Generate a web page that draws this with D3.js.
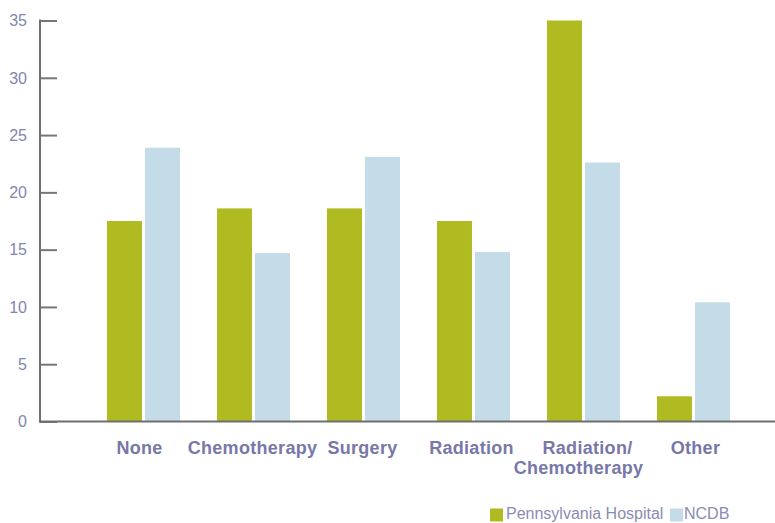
<!DOCTYPE html>
<html>
<head>
<meta charset="utf-8">
<script src="https://cdn.jsdelivr.net/npm/d3@7"></script>
<style>
  html, body { margin: 0; padding: 0; background: #ffffff; }
  svg { display: block; }
</style>
</head>
<body>
<svg id="chart" width="775" height="523"></svg>
<script>
const categories = ["None", "Chemotherapy", "Surgery", "Radiation", "Radiation/\nChemotherapy", "Other"];
const seriesNames = ["Pennsylvania Hospital", "NCDB"];
const pennValues = [17.5, 18.6, 18.6, 17.5, 35.0, 2.2];
const ncdbValues = [23.9, 14.7, 23.1, 14.8, 22.6, 10.4];
const yTicks = [0, 5, 10, 15, 20, 25, 30, 35];
const colors = ["#afbb21", "#c4dce7"];

const svg = d3.select("#chart");

const y = d3.scaleLinear().domain([0, 35]).range([421.5, 20.5]);
const x = d3.scaleBand().domain(categories).range([88.5, 748.5]).padding(0);
const xInner = d3.scaleBand().domain(seriesNames).range([-36.5, 36.5]).paddingInner(0.08).paddingOuter(0);

const rows = categories.map((c, i) => ({
  cat: c,
  vals: [pennValues[i], ncdbValues[i]]
}));

// Bars
const groups = svg.append("g").selectAll("g")
  .data(rows).join("g")
  .attr("transform", d => `translate(${x(d.cat) + x.bandwidth() / 2},0)`);

groups.selectAll("rect")
  .data(d => d.vals.map((v, j) => ({ series: seriesNames[j], v, j })))
  .join("rect")
  .attr("x", d => xInner(d.series))
  .attr("width", xInner.bandwidth())
  .attr("y", d => y(d.v))
  .attr("height", d => y(0) - y(d.v))
  .attr("fill", d => colors[d.j]);

// Y axis ticks
const yAxis = d3.axisRight(y).tickValues(yTicks).tickSize(17).tickFormat("");
const yg = svg.append("g").attr("transform", "translate(40,0)").call(yAxis);
yg.select(".domain").remove();
yg.selectAll(".tick line").attr("stroke", "#777777").attr("stroke-width", 2);

// Y tick labels
svg.append("g").selectAll("text")
  .data(yTicks).join("text")
  .attr("x", 27)
  .attr("y", d => y(d))
  .attr("dy", "0.36em")
  .attr("text-anchor", "end")
  .attr("font-family", "Liberation Sans, Arial, sans-serif")
  .attr("font-size", 16)
  .attr("fill", "#8385b0")
  .text(d => d);

// Axis lines
svg.append("line")
  .attr("x1", 40).attr("x2", 40)
  .attr("y1", y(35) - 1).attr("y2", y(0) + 1)
  .attr("stroke", "#6f6f6f").attr("stroke-width", 2);
svg.append("line")
  .attr("x1", 39).attr("x2", 775)
  .attr("y1", y(0)).attr("y2", y(0))
  .attr("stroke", "#6f6f6f").attr("stroke-width", 2);

// Category labels
const labelOffsets = [-4, -1, -1, -2, -5, 2];
const lbl = svg.append("g").selectAll("text")
  .data(categories).join("text")
  .attr("x", (d, i) => x(d) + x.bandwidth() / 2 + labelOffsets[i])
  .attr("y", 454)
  .attr("text-anchor", "middle")
  .attr("font-family", "Liberation Sans, Arial, sans-serif")
  .attr("font-weight", "bold")
  .attr("font-size", 18)
  .attr("letter-spacing", "0.3px")
  .attr("fill", "#7778a7");
lbl.each(function(d) {
  const parts = d.split("\n");
  const t = d3.select(this);
  const cx = +t.attr("x");
  parts.forEach((p, k) => {
    t.append("tspan")
      .attr("x", k === 0 && parts.length > 1 ? cx + 9 : cx)
      .attr("dy", k === 0 ? 0 : 20)
      .text(p);
  });
});

// Legend
const legendItems = [
  { name: seriesNames[0], color: colors[0], sx: 490, tx: 506 },
  { name: seriesNames[1], color: colors[1], sx: 670, tx: 684 }
];
const lg = svg.append("g").selectAll("g").data(legendItems).join("g");
lg.append("rect")
  .attr("x", d => d.sx).attr("y", 508.5)
  .attr("width", 13).attr("height", 13)
  .attr("fill", d => d.color);
lg.append("text")
  .attr("x", d => d.tx).attr("y", 519)
  .attr("font-family", "Liberation Sans, Arial, sans-serif")
  .attr("font-size", 16)
  .attr("fill", "#8a8cb3")
  .text(d => d.name);
</script>
</body>
</html>
